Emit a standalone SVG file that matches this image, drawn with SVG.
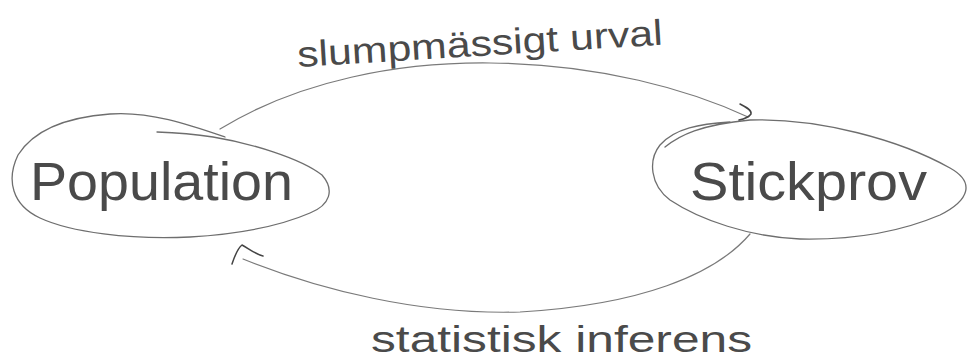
<svg xmlns="http://www.w3.org/2000/svg" width="970" height="361" viewBox="0 0 970 361">
<style>
.bg{fill:#ffffff}
.outline{fill:none;stroke:#6e6e6e;stroke-width:1.3;stroke-linecap:round;stroke-linejoin:round}
.conn{fill:none;stroke:#7a7a7a;stroke-width:1.2;stroke-linecap:round;stroke-linejoin:round}
.head{fill:none;stroke:#444;stroke-width:1.5;stroke-linecap:round;stroke-linejoin:round}
.node{font-family:"Liberation Sans","DejaVu Sans",sans-serif;fill:#4a4a4a}
.lbl{font-family:"Liberation Sans","DejaVu Sans",sans-serif;fill:#4a4a4a}
</style>
<rect class="bg" x="0" y="0" width="970" height="361"/>
<g id="population">
<path class="outline" d="M157,132 C185,133 200,135 213,137 C250,143 300,158 322,175 C335,190 330,205 310,213 C280,226 240,234 190,237 C130,240 70,232 40,218 C12,205 6,180 18,155 C35,128 70,117 110,114 C150,111 190,125 225,137"/>
<text class="node" x="30" y="200" font-size="54" textLength="263" lengthAdjust="spacingAndGlyphs">Population</text>
</g>
<g id="stickprov">
<path class="outline" d="M665,147 C680,135 700,125 750,120 C820,118 900,140 950,168 C975,182 970,200 940,215 C900,232 850,240 800,239 C750,237 700,220 670,200 C650,185 648,160 660,145 C675,128 700,124 730,122"/>
<text class="node" x="690" y="200" font-size="54" textLength="237" lengthAdjust="spacingAndGlyphs">Stickprov</text>
</g>
<g id="connectors">
<g id="edge-urval">
<path class="conn" d="M220,129 C300,80 400,62 490,63 C600,64 690,90 748,117"/>
<path class="head" d="M740,104 C746,107 752,110 751,114 C749,117 744,119 739,120"/>
<text class="lbl" x="298" y="67" font-size="36" textLength="366" lengthAdjust="spacingAndGlyphs" transform="rotate(-3.5 298 67)">slumpmässigt urval</text>
</g>
<g id="edge-inferens">
<path class="conn" d="M750,234 C715,275 640,305 520,312 C420,315 320,290 243,259"/>
<path class="head" d="M232,264 C235,255 238,248 242,245 C248,248 255,254 263,256"/>
<text class="lbl" x="371" y="352" font-size="36" textLength="381" lengthAdjust="spacingAndGlyphs">statistisk inferens</text>
</g>
</g>
</svg>
